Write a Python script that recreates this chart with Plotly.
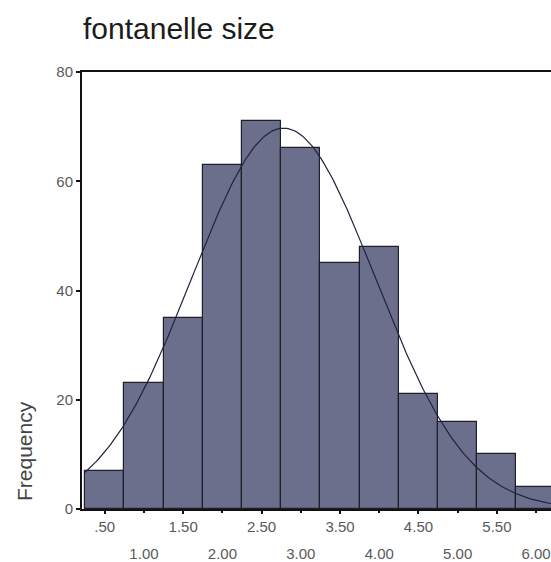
import numpy as np
import plotly.graph_objects as go

# Histogram bins (centres) and counts
bin_centers = [0.5, 1.0, 1.5, 2.0, 2.5, 3.0, 3.5, 4.0, 4.5, 5.0, 5.5, 6.0]
counts = [7, 23, 35, 63, 71, 66, 45, 48, 21, 16, 10, 4]
bin_width = 0.5

# Fitted normal curve parameters (as drawn by SPSS)
fit_mean = 2.78
fit_sd = 1.17

x_upper_vals = [0.5, 1.5, 2.5, 3.5, 4.5, 5.5]
x_upper_text = [".50", "1.50", "2.50", "3.50", "4.50", "5.50"]
x_lower_vals = [1.0, 2.0, 3.0, 4.0, 5.0, 6.0]
x_lower_text = ["1.00", "2.00", "3.00", "4.00", "5.00", "6.00"]
y_ticks = [0, 20, 40, 60, 80]

n_total = sum(counts)
xs = np.linspace(0.25, 6.25, 300)
ys = n_total * bin_width / (fit_sd * np.sqrt(2 * np.pi)) * np.exp(-0.5 * ((xs - fit_mean) / fit_sd) ** 2)

fig = go.Figure()
fig.add_trace(go.Bar(
    x=bin_centers, y=counts, width=bin_width,
    marker=dict(color="#6b6f8c", line=dict(color="#1e1f2b", width=1.2)),
    showlegend=False, hoverinfo="x+y",
))
fig.add_trace(go.Scatter(
    x=xs, y=ys, mode="lines",
    line=dict(color="#1f2440", width=1.2),
    showlegend=False, hoverinfo="skip",
))
# invisible trace on second x axis to carry the lower row of labels
fig.add_trace(go.Scatter(x=[bin_centers[0]], y=[0], xaxis="x2", mode="markers",
                         marker=dict(opacity=0), showlegend=False, hoverinfo="skip"))

tickfont = dict(family="Liberation Sans, Arial, sans-serif", size=15, color="#5a5a5a")

L, R, T, B = 82, 0, 72, 53
W, H = 551, 562
plot_w = W - L - R

fig.update_layout(
    width=W, height=H,
    margin=dict(l=L, r=R, t=T, b=B, autoexpand=False),
    paper_bgcolor="white", plot_bgcolor="white",
    bargap=0,
    title=dict(
        text="fontanelle size",
        font=dict(family="Liberation Sans, Arial, sans-serif", size=30, color="#1c1c1c"),
        x=83 / W, xref="container", xanchor="left",
        y=1 - 28 / H, yref="container", yanchor="middle",
    ),
    xaxis=dict(
        range=[0.21, 6.19], automargin=False,
        tickmode="array", tickvals=x_upper_vals, ticktext=x_upper_text,
        ticks="outside", ticklen=3, tickwidth=2, tickcolor="#111111",
        showline=True, linecolor="#111111", linewidth=2, mirror=True,
        showgrid=False, zeroline=False, tickfont=tickfont,
    ),
    xaxis2=dict(
        overlaying="x", matches="x", side="bottom", automargin=False,
        tickmode="array", tickvals=x_lower_vals, ticktext=x_lower_text,
        ticks="outside", ticklen=3, tickwidth=2, tickcolor="#111111",
        ticklabelstandoff=28,
        showline=False, showgrid=False, zeroline=False, tickfont=tickfont,
    ),
    yaxis=dict(
        range=[0, 80], automargin=False,
        tickmode="array", tickvals=y_ticks,
        ticks="outside", ticklen=4, tickwidth=2, tickcolor="#111111",
        showline=True, linecolor="#111111", linewidth=2,
        showgrid=False, zeroline=False, tickfont=tickfont,
    ),
    annotations=[dict(
        text="Frequency", xref="paper", yref="paper",
        x=(24 - L) / plot_w, y=(H - B - 451) / (H - T - B),
        xanchor="center", yanchor="middle",
        textangle=-90, showarrow=False,
        font=dict(family="Liberation Sans, Arial, sans-serif", size=21, color="#444444"),
    )],
)

fig.write_html("out.html", config={"displayModeBar": False},
               post_script="document.body.style.margin='0';")
